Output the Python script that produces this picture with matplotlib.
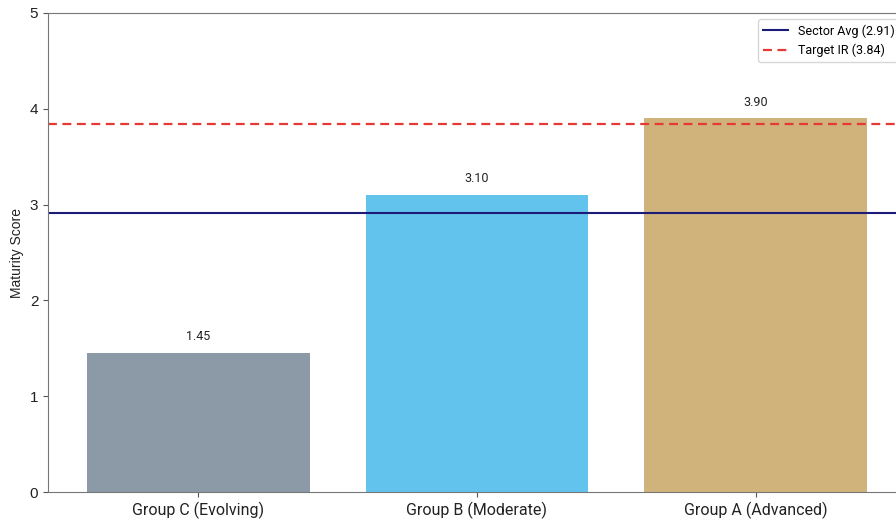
import matplotlib
matplotlib.use("Agg")
import matplotlib.pyplot as plt

categories = ["Group C (Evolving)", "Group B (Moderate)", "Group A (Advanced)"]
scores = [1.45, 3.10, 3.90]
bar_colors = ["#8C9AA7", "#62C4EC", "#D0B37B"]
sector_avg = 2.91
target_ir = 3.84
yticks = [0, 1, 2, 3, 4, 5]

fig = plt.figure(figsize=(8.96, 5.23), dpi=100)
ax = fig.add_axes([48/896, 31/523, (906-48)/896, (492-13)/523])

x = list(range(len(categories)))
bars = ax.bar(x, scores, width=0.8, color=bar_colors)
ax.axhline(sector_avg, color="#1c1c78", lw=1.5, label=f"Sector Avg ({sector_avg:.2f})")
ax.axhline(target_ir, color="#e53935", lw=1.6, ls=(0, (4, 2.5)), label=f"Target IR ({target_ir:.2f})")

for xi, v in zip(x, scores):
    ax.annotate(f"{v:.2f}", (xi, v), xytext=(0, 7), textcoords="offset points",
                ha="center", va="bottom", fontsize=9, family=["Roboto", "DejaVu Sans"], color="#222222")

ax.set_ylim(0, 5)
ax.set_yticks(yticks)
ax.set_xticks(x)
ax.set_xticklabels(categories, fontsize=11.5, family=["Roboto", "DejaVu Sans"], color="#222222")
for lab in ax.get_yticklabels():
    lab.set_family(["Liberation Sans", "DejaVu Sans"])
    lab.set_fontsize(11)
ax.set_ylabel("Maturity Score", fontsize=10, family=["Liberation Sans", "DejaVu Sans"], color="#222222")
for s in ax.spines.values():
    s.set_color("#777777")
ax.tick_params(colors="#555555", labelcolor="#222222")

leg = ax.legend(loc="upper right", prop={"family": ["Roboto", "DejaVu Sans"], "size": 9},
                frameon=True, fancybox=True)
leg.get_frame().set_edgecolor("#cccccc")

fig.savefig("out.png", dpi=100)
